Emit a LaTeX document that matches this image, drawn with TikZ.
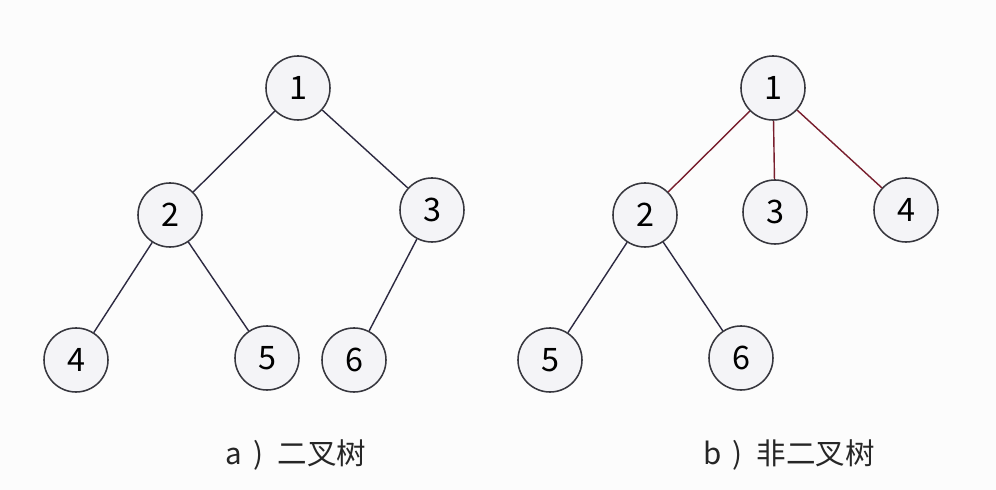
\documentclass[tikz,border=0pt]{standalone}
\usepackage{fontspec}
\setmainfont{Noto Sans CJK SC}
\usepackage{tikz}

\definecolor{nodefill}{RGB}{244,244,247}
\definecolor{nodeline}{RGB}{55,55,62}
\definecolor{edgedark}{RGB}{45,42,65}
\definecolor{edgered}{RGB}{120,30,45}
\definecolor{bgcol}{RGB}{252,252,252}

\tikzset{
  treenode/.style={draw=nodeline, fill=nodefill, circle, line width=1.1pt, minimum size=1.6cm, inner sep=0pt, font=\fontsize{23}{23}\selectfont},
  edge/.style={draw=edgedark, line width=1pt},
  rededge/.style={draw=edgered, line width=1pt},
  caption/.style={font=\fontsize{21}{21}\selectfont, text=black!85}
}

\begin{document}
\begin{tikzpicture}[x=0.025cm, y=-0.025cm]

\fill[bgcol] (0,0) rectangle (996,490);
\useasboundingbox (0,0) rectangle (996,490);

% binary tree
\node[treenode] (A1) at (298, 88) {1};
\node[treenode] (A2) at (170,215) {2};
\node[treenode] (A3) at (432,210) {3};
\node[treenode] (A4) at ( 76,360) {4};
\node[treenode] (A5) at (267,358) {5};
\node[treenode] (A6) at (354,360) {6};

\draw[edge] (A1) -- (A2);
\draw[edge] (A1) -- (A3);
\draw[edge] (A2) -- (A4);
\draw[edge] (A2) -- (A5);
\draw[edge] (A3) -- (A6);

% non-binary tree
\node[treenode] (B1) at (773, 88) {1};
\node[treenode] (B2) at (645,215) {2};
\node[treenode] (B3) at (775,212) {3};
\node[treenode] (B4) at (906,210) {4};
\node[treenode] (B5) at (550,360) {5};
\node[treenode] (B6) at (741,358) {6};

\draw[rededge] (B1) -- (B2);
\draw[rededge] (B1) -- (B3);
\draw[rededge] (B1) -- (B4);
\draw[edge] (B2) -- (B5);
\draw[edge] (B2) -- (B6);

\node[caption] (capA) at (296,455) {a\hspace{8pt})\hspace{10pt}二叉树};
\node[caption] (capB) at (789,455) {b\hspace{8pt})\hspace{10pt}非二叉树};
\end{tikzpicture}
\end{document}
